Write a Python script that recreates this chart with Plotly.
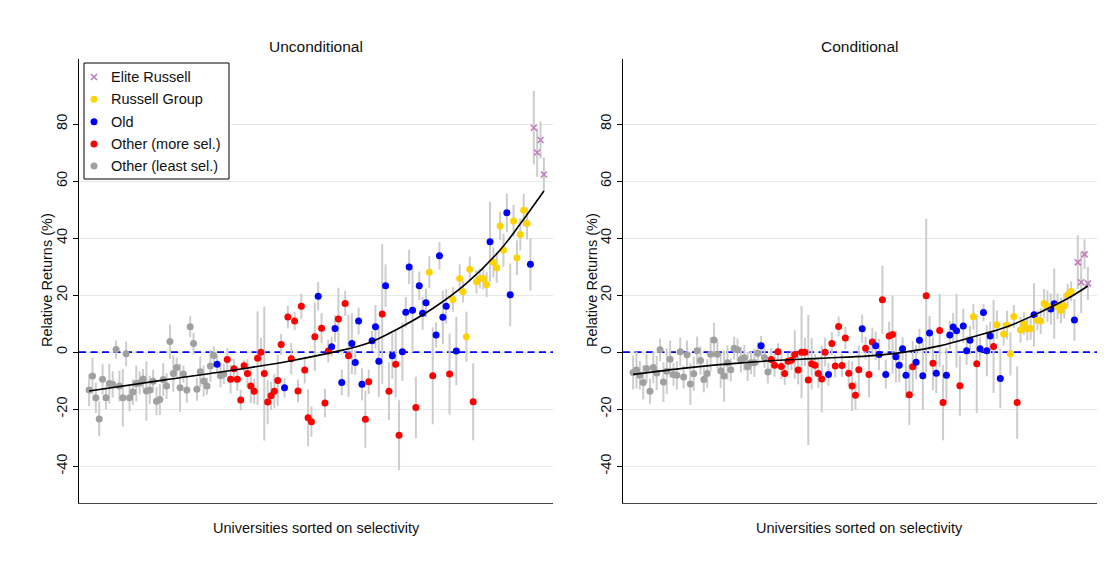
import plotly.graph_objects as go

# Group code of each university, ordered by selectivity (least selective first)
# G = Other (least sel.), R = Other (more sel.), B = Old, Y = Russell Group, E = Elite Russell
groups = list(
    "GGGGGGGGGGGGGGGGGGGGGGGGGGGGGGGGGGGGGG"
    "BGG"
    "RRRRRRRRRRRRRRRRR"
    "B"
    "RRRRRRRRR"
    "BRRRBBRBRRBBBBRRBBBRBRBRRBBBBRBBBYRBBBBRYBYYYYRYYYYBYYYYBBYYYYYB"
    "EEEE"
)

# Unconditional relative returns (%) and half-width of the confidence intervals
uncond = [
    -13.3, -8.4, -16.0, -23.4, -9.5, -16.0, -11.0, -11.3, 0.9, -11.9,
    -16.0, -0.6, -16.0, -14.0, -11.0, -10.8, -9.4, -13.6, -13.3, -10.2,
    -17.2, -16.6, -9.6, -11.9, 3.7, -7.5, -5.4, -12.5, -7.7, -13.3,
    8.9, 3.0, -13.0, -6.9, -10.1, -11.9, -4.9, -1.2, -4.2, -8.3,
    -7.7, -2.6, -9.5, -5.8, -9.5, -16.8, -4.8, -7.5, -11.9, -13.7,
    -2.1, 0.0, -7.5, -17.5, -15.3, -13.7, -9.9, 2.7, -12.5, 12.3,
    -2.3, 10.9, -13.6, 16.1, -6.3, -23.0, -24.4, 5.4, 19.6, 8.4,
    -17.8, 0.4, 1.9, 8.3, 11.6, -10.6, 17.1, -1.3, 3.0, -3.6,
    10.9, -11.3, -23.5, -10.4, 4.0, 8.9, -3.2, 13.4, 23.3, -13.7,
    -1.3, -4.2, -29.1, 0.1, 14.0, 29.9, 14.7, -19.4, 23.3, 13.6,
    17.3, 28.0, -8.3, 6.0, 33.8, 12.2, 16.1, -7.7, 18.5, 0.4,
    25.8, 21.2, 5.4, 29.1, -17.4, 24.7, 25.8, 25.8, 23.7, 38.7,
    31.5, 29.6, 44.2, 35.8, 48.9, 20.1, 46.0, 33.1, 41.3, 49.8,
    45.1, 30.8, 78.7, 70.0, 74.4, 62.3,
]
uncond_ci = [
    5.6, 6.4, 5.3, 6.1, 5.4, 4.0, 7.0, 4.6, 3.2, 5.4,
    10.1, 4.3, 4.7, 4.5, 6.3, 4.0, 3.5, 10.4, 5.0, 4.0,
    4.9, 5.4, 5.8, 4.5, 6.0, 6.4, 3.5, 8.5, 3.0, 4.5,
    3.7, 3.8, 4.0, 5.4, 5.4, 3.0, 5.6, 3.2, 3.0, 4.0,
    3.5, 4.0, 5.0, 3.5, 4.1, 3.6, 2.0, 5.0, 6.0, 4.4,
    16.4, 5.0, 23.5, 7.8, 5.0, 6.0, 9.0, 3.7, 3.5, 4.0,
    5.5, 3.2, 4.0, 4.4, 4.7, 10.0, 5.3, 12.0, 5.0, 5.3,
    5.0, 4.0, 3.5, 4.7, 11.0, 4.5, 4.4, 14.4, 10.7, 4.3,
    4.7, 5.6, 10.0, 4.3, 3.5, 7.6, 12.5, 24.5, 7.5, 10.2,
    8.0, 11.7, 12.2, 10.2, 5.3, 6.0, 14.6, 10.8, 5.0, 5.8,
    5.0, 5.6, 17.0, 4.4, 4.8, 9.4, 6.1, 14.2, 4.3, 12.0,
    5.0, 3.8, 8.8, 4.4, 13.5, 4.1, 3.5, 3.8, 4.4, 14.0,
    5.3, 5.3, 5.0, 5.8, 6.7, 11.0, 5.6, 6.1, 5.6, 5.7,
    5.6, 9.2, 12.9, 8.5, 6.5, 6.0,
]

# Conditional relative returns (%) and half-width of the confidence intervals
cond = [
    -7.1, -6.3, -8.1, -10.6, -5.7, -13.7, -5.4, -7.3, 0.8, -10.5,
    -6.7, -2.5, -7.8, -8.1, 0.1, -8.7, -0.9, -11.2, -7.6, 0.5,
    -2.9, -9.6, -7.5, -0.7, 4.3, -0.7, -6.5, -8.4, -3.7, -6.2,
    1.4, 0.8, -2.6, -2.0, -5.1, -3.7, -3.7, -0.4, 2.2, -2.0,
    -7.0, -2.6, -4.6, 0.1, -5.0, -7.5, -3.2, -2.8, -0.8, -6.3,
    0.0, 0.0, -9.8, -4.1, -4.6, -7.5, -9.4, 0.0, -7.8, 3.0,
    -4.9, 9.0, -4.7, 5.0, -7.4, -11.9, -15.1, -6.2, 8.2, 1.4,
    -7.8, 3.6, 2.2, -0.8, 18.4, -7.8, 5.7, 6.2, -1.6, -4.6,
    1.2, -8.1, -14.9, -5.1, -3.5, 4.2, -8.3, 19.8, 6.7, -3.9,
    -7.4, 7.6, -17.7, -8.1, 6.0, 8.8, 7.5, -11.8, 9.2, 0.5,
    4.2, 12.4, -4.1, 1.2, 13.9, 0.5, 5.7, 2.0, 9.6, -9.2,
    6.4, 9.5, -0.6, 12.5, -17.7, 7.8, 10.0, 8.1, 8.3, 13.1,
    11.2, 10.9, 17.1, 16.1, 15.1, 17.0, 16.1, 14.6, 16.2, 20.0,
    21.3, 11.3, 31.5, 24.5, 34.3, 24.1,
]
cond_ci = [
    6.0, 6.5, 5.0, 6.0, 5.0, 4.4, 5.5, 6.0, 4.0, 7.0,
    8.0, 6.5, 4.0, 5.0, 5.0, 4.0, 5.0, 7.3, 6.0, 5.0,
    5.0, 4.5, 5.0, 6.0, 6.0, 5.0, 6.0, 9.0, 6.0, 4.0,
    4.0, 4.0, 4.5, 4.5, 5.0, 4.0, 5.0, 4.0, 3.5, 3.5,
    4.0, 4.0, 4.0, 3.0, 4.5, 4.0, 3.0, 3.5, 8.5, 5.0,
    16.2, 5.0, 22.8, 9.0, 4.0, 5.0, 11.7, 5.0, 4.0, 4.0,
    4.0, 3.5, 4.0, 4.0, 4.5, 8.7, 5.0, 8.5, 5.0, 4.0,
    8.0, 5.0, 5.0, 5.5, 12.0, 5.0, 5.0, 13.7, 9.0, 6.0,
    4.0, 8.0, 10.6, 9.0, 6.0, 4.0, 12.0, 27.0, 6.0, 9.4,
    7.0, 12.9, 13.2, 9.6, 5.0, 5.0, 12.9, 10.5, 6.0, 5.0,
    5.0, 4.5, 17.3, 4.0, 3.0, 9.0, 5.0, 16.3, 5.0, 10.5,
    4.0, 5.0, 7.6, 4.0, 12.7, 4.5, 4.0, 4.0, 4.0, 11.1,
    3.5, 4.5, 5.0, 5.5, 5.5, 12.3, 4.5, 4.5, 4.5, 4.0,
    3.5, 7.3, 9.4, 10.8, 5.3, 5.8,
]

# Fitted trend through each panel (rank, fitted value)
uncond_fit_rank = [0, 22, 44, 60, 72.5, 82.5, 92, 102, 112, 122, 128, 135]
uncond_fit = [-13.6, -9.8, -6.1, -3.0, 0.0, 3.0, 8.4, 15.3, 24.1, 35.8, 45.0, 56.5]
cond_fit_rank = [0, 16, 35, 55, 70, 81, 91, 101, 111, 121, 129, 135]
cond_fit = [-7.8, -5.5, -3.5, -2.2, -1.3, 0.1, 2.2, 5.4, 8.9, 14.1, 18.8, 23.2]

panel_titles = ["Unconditional", "Conditional"]
y_ticks = [-40, -20, 0, 20, 40, 60, 80]
x_range = [-3, 137.7]
y_range = [-52.9, 102.8]

# code, legend label, colour, symbol
group_styles = [
    ("G", "Other (least sel.)", "#a0a0a0", "circle"),
    ("R", "Other (more sel.)", "#ff0000", "circle"),
    ("B", "Old", "#0000ff", "circle"),
    ("Y", "Russell Group", "#ffd200", "circle"),
    ("E", "Elite Russell", "#c07cc0", "x-thin"),
]
legend_order = ["E", "Y", "B", "R", "G"]

FONT = "Liberation Sans, Arial, Helvetica, sans-serif"
rank = list(range(len(groups)))


def marker_style(symbol, color):
    if symbol == "x-thin":
        return dict(symbol=symbol, size=6, color=color,
                    line=dict(color=color, width=1.6))
    return dict(symbol=symbol, size=7, color=color, line=dict(width=0))


fig = go.Figure()

panels = [
    ("x", "y", uncond, uncond_ci, uncond_fit_rank, uncond_fit),
    ("x2", "y2", cond, cond_ci, cond_fit_rank, cond_fit),
]

for xa, ya, vals, ci, fit_x, fit_y in panels:
    # confidence intervals (drawn first, beneath the points)
    fig.add_trace(go.Scatter(
        x=rank, y=vals, mode="markers", xaxis=xa, yaxis=ya,
        marker=dict(size=1, opacity=0),
        error_y=dict(type="data", array=ci, visible=True,
                     color="#cdcdcd", thickness=2, width=0),
        showlegend=False, hoverinfo="skip",
    ))
    for code, label, color, symbol in group_styles:
        xs = [r for r, g in zip(rank, groups) if g == code]
        ys = [v for v, g in zip(vals, groups) if g == code]
        fig.add_trace(go.Scatter(
            x=xs, y=ys, mode="markers", xaxis=xa, yaxis=ya,
            marker=marker_style(symbol, color), name=label,
            showlegend=False,
        ))
    fig.add_trace(go.Scatter(
        x=fit_x, y=fit_y, mode="lines", xaxis=xa, yaxis=ya,
        line=dict(color="black", width=1.6, shape="spline", smoothing=1.0),
        showlegend=False, hoverinfo="skip",
    ))
    # horizontal reference line at zero
    fig.add_shape(type="line", xref=xa, yref=ya,
                  x0=x_range[0], x1=x_range[1], y0=0, y1=0, layer="between",
                  line=dict(color="#0000ff", width=1.8, dash="7px,4.5px"))

# Legend box in its own small subplot (pixel-like units, y downward)
box_w, box_h = 145, 116
row_y = [14, 36.3, 58.7, 81, 103]
fig.add_trace(go.Scatter(
    x=[0, box_w, box_w, 0, 0], y=[0, 0, box_h, box_h, 0],
    mode="lines", fill="toself", fillcolor="white",
    line=dict(color="black", width=1), xaxis="x3", yaxis="y3",
    showlegend=False, hoverinfo="skip",
))
style_by_code = {c: (lab, col, sym) for c, lab, col, sym in group_styles}
legend_annotations = []
for code, ry in zip(legend_order, row_y):
    lab, col, sym = style_by_code[code]
    fig.add_trace(go.Scatter(
        x=[10], y=[ry], mode="markers", xaxis="x3", yaxis="y3",
        marker=marker_style(sym, col), showlegend=False, hoverinfo="skip",
    ))
    legend_annotations.append(dict(
        text=lab, x=24.5, y=ry, xref="x3", yref="y3", showarrow=False,
        xanchor="left", yanchor="middle", font=dict(size=14.5)))

x_dom = [[79 / 1120, 553 / 1120], [623 / 1120, 1097 / 1120]]
y_dom = [(563 - 503) / 563, (563 - 59) / 563]

xaxis_style = dict(range=x_range, showgrid=False, showticklabels=False,
                   ticks="", showline=True, linecolor="#444", linewidth=1,
                   zeroline=False)
yaxis_style = dict(range=y_range, tickvals=y_ticks,
                   ticktext=[str(t) for t in y_ticks], tickangle=-90,
                   ticks="outside", ticklen=5, tickcolor="black",
                   showline=True, linecolor="black", linewidth=1,
                   showgrid=True, gridcolor="#e2eaec", gridwidth=1,
                   zeroline=False, tickfont=dict(size=14.5, color="#111"))

fig.update_layout(
    width=1120, height=563,
    margin=dict(l=0, r=0, t=0, b=0),
    paper_bgcolor="white", plot_bgcolor="white",
    font=dict(family=FONT, color="#111", size=14),
    xaxis=dict(domain=x_dom[0], anchor="y", **xaxis_style),
    yaxis=dict(domain=y_dom, anchor="x", **yaxis_style),
    xaxis2=dict(domain=x_dom[1], anchor="y2", **xaxis_style),
    yaxis2=dict(domain=y_dom, anchor="x2", **yaxis_style),
    xaxis3=dict(domain=[82 / 1120, 231 / 1120], range=[-2, box_w + 2],
                visible=False, anchor="y3"),
    yaxis3=dict(domain=[(563 - 181) / 563, (563 - 61) / 563],
                range=[box_h + 2, -2], visible=False, anchor="x3"),
    showlegend=False,
)

annotations = []
for i, title in enumerate(panel_titles):
    cx = (x_dom[i][0] + x_dom[i][1]) / 2
    annotations.append(dict(text=title, x=cx, y=1 - 46 / 563, xref="paper",
                            yref="paper", showarrow=False, xanchor="center",
                            yanchor="middle", font=dict(size=15.5)))
    annotations.append(dict(text="Universities sorted on selectivity", x=cx,
                            y=1 - 528 / 563, xref="paper", yref="paper",
                            showarrow=False, xanchor="center",
                            yanchor="middle", font=dict(size=14.5)))
for xpix in [47, 592]:
    annotations.append(dict(text="Relative Returns (%)", x=xpix / 1120,
                            y=1 - 280 / 563, xref="paper", yref="paper",
                            showarrow=False, textangle=-90, xanchor="center",
                            yanchor="middle", font=dict(size=14.5)))
fig.update_layout(annotations=annotations + legend_annotations)

fig.write_html("out.html")
